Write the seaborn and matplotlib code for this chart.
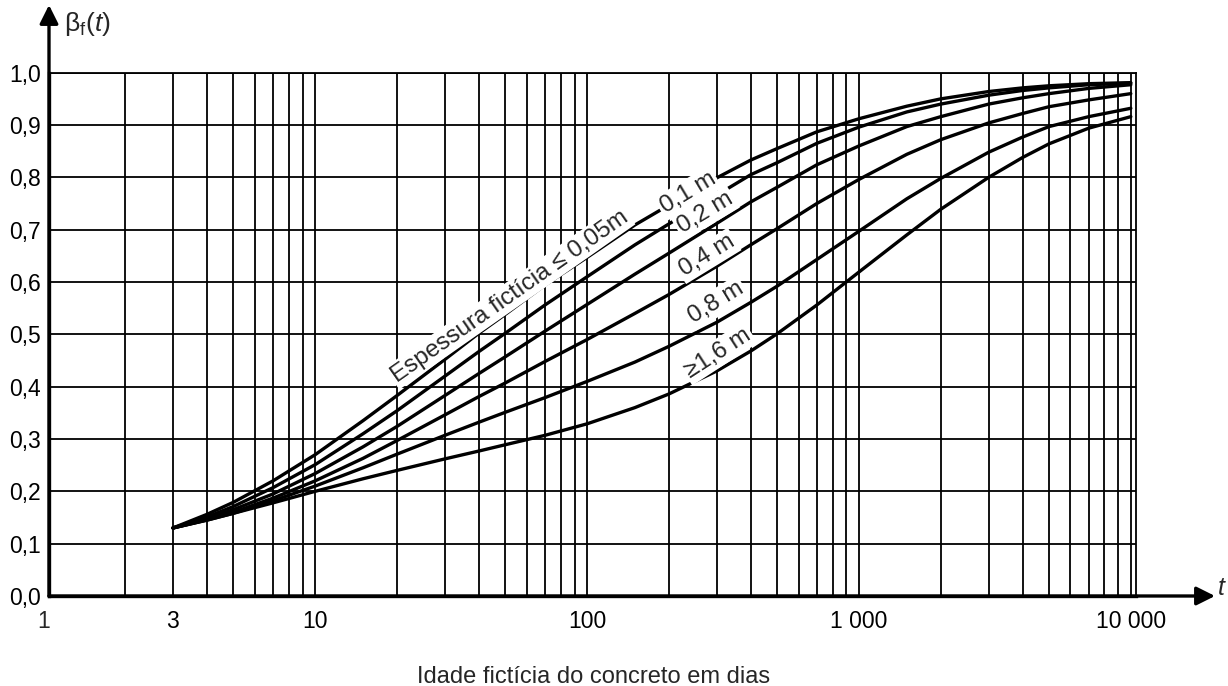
import numpy as np
import pandas as pd
import matplotlib
matplotlib.use("Agg")
import matplotlib.pyplot as plt
from matplotlib.ticker import LogLocator, NullFormatter, FixedLocator
import seaborn as sns

# ---- data ----
t_days = [3, 4, 5, 7, 10, 15, 20, 30, 40, 50, 70, 100, 150, 200, 300, 400, 500, 700,
          1000, 1500, 2000, 3000, 4000, 5000, 7000, 10000]
beta_005 = [0.130, 0.156, 0.179, 0.220, 0.270, 0.335, 0.383, 0.452, 0.502, 0.538, 0.594, 0.647,
            0.709, 0.747, 0.799, 0.833, 0.855, 0.887, 0.912, 0.936, 0.950, 0.964, 0.971, 0.975,
            0.979, 0.981]
beta_01 = [0.130, 0.151, 0.171, 0.207, 0.251, 0.310, 0.354, 0.420, 0.467, 0.502, 0.556, 0.610,
           0.671, 0.711, 0.766, 0.805, 0.828, 0.865, 0.896, 0.925, 0.940, 0.957, 0.966, 0.971,
           0.977, 0.980]
beta_02 = [0.130, 0.148, 0.165, 0.195, 0.234, 0.285, 0.324, 0.383, 0.425, 0.457, 0.506, 0.557,
           0.615, 0.655, 0.712, 0.753, 0.781, 0.824, 0.860, 0.897, 0.916, 0.940, 0.952, 0.960,
           0.970, 0.977]
beta_04 = [0.130, 0.146, 0.160, 0.187, 0.220, 0.263, 0.297, 0.346, 0.381, 0.407, 0.448, 0.490,
           0.540, 0.576, 0.630, 0.671, 0.702, 0.750, 0.796, 0.844, 0.872, 0.904, 0.922, 0.935,
           0.948, 0.960]
beta_08 = [0.130, 0.145, 0.158, 0.182, 0.210, 0.245, 0.271, 0.307, 0.332, 0.351, 0.379, 0.410,
           0.447, 0.477, 0.523, 0.561, 0.592, 0.643, 0.697, 0.759, 0.798, 0.848, 0.877, 0.897,
           0.916, 0.932]
beta_16 = [0.130, 0.145, 0.158, 0.178, 0.200, 0.224, 0.240, 0.262, 0.277, 0.289, 0.307, 0.329,
           0.360, 0.386, 0.430, 0.468, 0.501, 0.556, 0.619, 0.690, 0.739, 0.800, 0.838, 0.864,
           0.894, 0.916]

curve_labels = ["Espessura fictícia ≤ 0,05m", "0,1 m", "0,2 m", "0,4 m", "0,8 m", "≥1,6 m"]
label_t = [52, 235, 272, 276, 298, 303]
label_y = [0.573, 0.770, 0.732, 0.650, 0.560, 0.464]
label_rot = [35, 31, 31, 31.5, 31.5, 33]

x_tick_values = [3, 10, 100, 1000, 10000]
x_tick_labels = ["3", "10", "100", "1 000", "10 000"]
y_tick_values = [0.0, 0.1, 0.2, 0.3, 0.4, 0.5, 0.6, 0.7, 0.8, 0.9, 1.0]
y_tick_labels = ["0,0", "0,1", "0,2", "0,3", "0,4", "0,5", "0,6", "0,7", "0,8", "0,9", "1,0"]
x_axis_title = "Idade fictícia do concreto em dias"

# ---- style ----
sns.set_theme(style="white")
plt.rcParams["font.family"] = ["Liberation Sans", "DejaVu Sans"]
plt.rcParams["mathtext.fontset"] = "custom"
plt.rcParams["mathtext.rm"] = "Liberation Sans"
plt.rcParams["mathtext.it"] = "Liberation Sans:italic"

W, H = 1228, 686
fig = plt.figure(figsize=(W / 100, H / 100), dpi=100)
fig.patch.set_facecolor("white")
L, R, B, T = 49, 1136, 596, 72.7
ax = fig.add_axes([L / W, 1 - B / H, (R - L) / W, (B - T) / H])
ax.set_facecolor("white")

df = pd.DataFrame({"t": t_days, "0.05": beta_005, "0.1": beta_01, "0.2": beta_02,
                   "0.4": beta_04, "0.8": beta_08, "1.6": beta_16})
long = df.melt(id_vars="t", var_name="h", value_name="beta")
sns.lineplot(data=long, x="t", y="beta", units="h", estimator=None, color="black",
             lw=2.4, ax=ax, legend=False, zorder=3)

ax.set_xscale("log")
ax.set_xlim(1.05, 10450)
ax.set_ylim(0, 1.0)

ax.xaxis.set_major_locator(FixedLocator(x_tick_values))
ax.set_xticklabels(x_tick_labels)
ax.xaxis.set_minor_locator(LogLocator(base=10, subs=np.arange(2, 10), numticks=30))
ax.xaxis.set_minor_formatter(NullFormatter())
ax.set_yticks(y_tick_values)
ax.set_yticklabels(y_tick_labels)
ax.tick_params(axis="both", which="both", length=0, labelsize=16.5, colors="black")
ax.tick_params(axis="x", pad=10)
ax.tick_params(axis="y", pad=6)

ax.grid(True, which="both", axis="x", color="black", lw=1.3)
ax.grid(True, which="major", axis="y", color="black", lw=1.3)
ax.set_axisbelow(True)

for s in ["left", "bottom"]:
    ax.spines[s].set_linewidth(2.4)
    ax.spines[s].set_color("black")
for s in ["top", "right"]:
    ax.spines[s].set_linewidth(1.3)
    ax.spines[s].set_color("black")

ax.set_xlabel("")
ax.set_ylabel("")

# tick label "1" at the left end (axis starts just right of 1)
ax.text(1, -0.0265, "1", transform=ax.get_xaxis_transform(), ha="center", va="top",
        fontsize=16.5, clip_on=False)

# curve labels
for txt, tx, ty, rot in zip(curve_labels, label_t, label_y, label_rot):
    ax.text(tx, ty, txt, rotation=rot, rotation_mode="anchor", ha="center", va="center",
            fontsize=17.5, zorder=5,
            bbox=dict(facecolor="white", edgecolor="none", pad=1.5))

# axis arrows
ax.annotate("", xy=(L / W, 1 - 5 / H), xytext=(L / W, 1 - B / H),
            xycoords="figure fraction", textcoords="figure fraction",
            arrowprops=dict(arrowstyle="-|>", lw=2.4, color="black", mutation_scale=28,
                            shrinkA=0, shrinkB=0))
ax.annotate("", xy=(1215 / W, 1 - B / H), xytext=(L / W, 1 - B / H),
            xycoords="figure fraction", textcoords="figure fraction",
            arrowprops=dict(arrowstyle="-|>", lw=2.4, color="black", mutation_scale=28,
                            shrinkA=0, shrinkB=0))

fig.text(64 / W, 1 - 24 / H, r"$\mathrm{\beta}_{\mathrm{f}}(t)$", fontsize=19, ha="left",
         va="center")
fig.text(1218 / W, 1 - 588 / H, "t", fontsize=18, style="italic", ha="left", va="center")
fig.text(594 / W, 1 - 677 / H, x_axis_title, fontsize=17, ha="center", va="center")

fig.savefig("out.png", dpi=100, facecolor="white")
